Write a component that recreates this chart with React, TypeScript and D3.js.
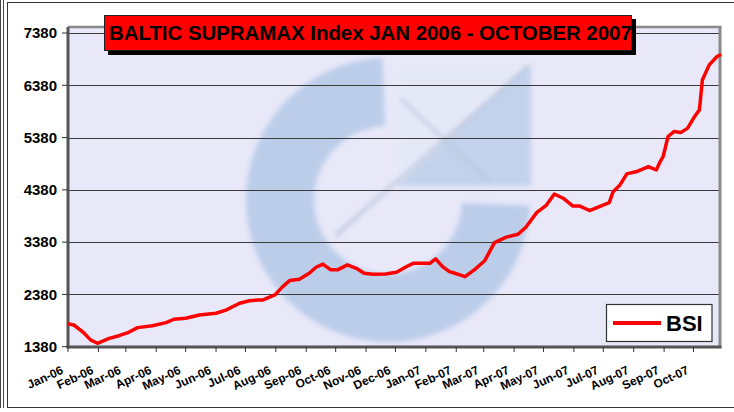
import { useEffect, useRef } from 'react';
import * as d3 from 'd3';

// BSI weekly-ish readings
const DATES = [
  '2006-01-02', '2006-01-07', '2006-01-16', '2006-01-24', '2006-01-31', '2006-02-12', '2006-02-22',
  '2006-03-04', '2006-03-13', '2006-03-28', '2006-04-11', '2006-04-19', '2006-05-01', '2006-05-15',
  '2006-06-01', '2006-06-11', '2006-06-25', '2006-07-05', '2006-07-15', '2006-07-19', '2006-07-31',
  '2006-08-08', '2006-08-15', '2006-08-25', '2006-09-04', '2006-09-11', '2006-09-18', '2006-09-26',
  '2006-10-03', '2006-10-13', '2006-10-22', '2006-10-30', '2006-11-08', '2006-11-21', '2006-12-02',
  '2006-12-12', '2006-12-19', '2007-01-05', '2007-01-11', '2007-01-18', '2007-01-25', '2007-01-29',
  '2007-02-10', '2007-02-20', '2007-03-02', '2007-03-12', '2007-03-24', '2007-04-05', '2007-04-13',
  '2007-04-24', '2007-05-04', '2007-05-12', '2007-05-21', '2007-05-31', '2007-06-07', '2007-06-17',
  '2007-06-27', '2007-07-07', '2007-07-11', '2007-07-18', '2007-07-25', '2007-08-04', '2007-08-16',
  '2007-08-24', '2007-08-28', '2007-08-31', '2007-09-05', '2007-09-11', '2007-09-18', '2007-09-25',
  '2007-10-02', '2007-10-07', '2007-10-10', '2007-10-17', '2007-10-25', '2007-10-28',
];
const BSI = [
  1815, 1795, 1665, 1510, 1445, 1540, 1590,
  1655, 1745, 1780, 1840, 1905, 1925, 1985,
  2020, 2080, 2210, 2260, 2275, 2275, 2370,
  2530, 2645, 2670, 2785, 2900, 2960, 2850,
  2850, 2945, 2880, 2785, 2765, 2770, 2805,
  2910, 2975, 2975, 3060, 2910, 2815, 2795,
  2720, 2860, 3025, 3370, 3475, 3530, 3665,
  3945, 4090, 4300, 4220, 4070, 4070, 3985,
  4060, 4135, 4345, 4475, 4685, 4730, 4825,
  4760, 4920, 5015, 5400, 5495, 5475, 5560,
  5780, 5910, 6480, 6770, 6930, 6960,
];
const Y_TICKS = [1380, 2380, 3380, 4380, 5380, 6380, 7380];
const MONTH_LABELS = [
  'Jan-06', 'Feb-06', 'Mar-06', 'Apr-06', 'May-06', 'Jun-06', 'Jul-06', 'Aug-06', 'Sep-06', 'Oct-06', 'Nov-06',
  'Dec-06', 'Jan-07', 'Feb-07', 'Mar-07', 'Apr-07', 'May-07', 'Jun-07', 'Jul-07', 'Aug-07', 'Sep-07', 'Oct-07',
];
const TITLE = 'BALTIC SUPRAMAX Index JAN 2006 - OCTOBER 2007';
const SERIES_NAME = 'BSI';

const W = 734;
const H = 412;
const FONT = '"Liberation Sans", Arial, sans-serif';

export default function App() {
  const svgRef = useRef<SVGSVGElement>(null);

  useEffect(() => {
    if (!svgRef.current) return;
    const svg = d3.select(svgRef.current);
    svg.selectAll('*').remove();

    const parse = d3.timeParse('%Y-%m-%d');
    const data = DATES.map((d, i) => ({ date: parse(d) as Date, value: BSI[i] }));

    const left = 68, right = 720, top = 27, bottom = 347;
    const x = d3.scaleTime()
      .domain([new Date(2006, 0, 1), new Date(2007, 9, 28)])
      .range([left, right]);
    const y = d3.scaleLinear().domain([1380, 7380]).range([346.7, 33]);

    // outer frame
    svg.append('rect').attr('width', W).attr('height', H).attr('fill', '#fff');
    svg.append('line').attr('x1', 0.5).attr('x2', 0.5).attr('y1', 0).attr('y2', 408).attr('stroke', '#444');
    svg.append('line').attr('x1', 3.5).attr('x2', 3.5).attr('y1', 0).attr('y2', 408).attr('stroke', '#444');
    svg.append('rect')
      .attr('x', 7.5).attr('y', 2.5).attr('width', 740).attr('height', 405)
      .attr('fill', '#fff').attr('stroke', '#333');

    // plot area
    svg.append('rect')
      .attr('x', left).attr('y', top).attr('width', right - left).attr('height', bottom - top)
      .attr('fill', '#e8e8f9');

    // watermark logo
    const defs = svg.append('defs');
    defs.append('filter').attr('id', 'soft')
      .append('feGaussianBlur').attr('stdDeviation', 2.5);
    const wm = svg.append('g').attr('filter', 'url(#soft)').attr('opacity', 0.5);
    const cx = 388, cy = 200;
    const ring = d3.arc()({ innerRadius: 74, outerRadius: 142, startAngle: Math.PI / 2 + 0.04, endAngle: 2 * Math.PI - 0.04 } as any);
    wm.append('path').attr('transform', `translate(${cx},${cy})`).attr('d', ring as string).attr('fill', '#8fb3da');
    wm.append('rect').attr('x', 397).attr('y', 64).attr('width', 134).attr('height', 122).attr('fill', '#9dbde0');
    wm.append('path').attr('d', 'M397,64 L531,64 L397,186 Z').attr('fill', '#e4eaf7');
    wm.append('line').attr('x1', 335).attr('y1', 236).attr('x2', 528).attr('y2', 66)
      .attr('stroke', '#8ea4bf').attr('stroke-width', 3);
    wm.append('line').attr('x1', 400).attr('y1', 98).attr('x2', 490).attr('y2', 182)
      .attr('stroke', '#8ea4bf').attr('stroke-width', 3);

    // gridlines
    svg.append('g').selectAll('line').data(Y_TICKS.slice(1)).join('line')
      .attr('x1', left).attr('x2', right - 1)
      .attr('y1', (d) => Math.round(y(d)) + 0.5).attr('y2', (d) => Math.round(y(d)) + 0.5)
      .attr('stroke', '#3a3a3a').attr('stroke-width', 1);

    // plot frame
    svg.append('line').attr('x1', left).attr('x2', right + 1.5).attr('y1', top).attr('y2', top)
      .attr('stroke', '#8a8a8a').attr('stroke-width', 2.5);
    svg.append('line').attr('x1', right).attr('x2', right).attr('y1', top).attr('y2', bottom + 1)
      .attr('stroke', '#8a8a8a').attr('stroke-width', 3);
    svg.append('line').attr('x1', left).attr('x2', left).attr('y1', top).attr('y2', bottom + 1.5)
      .attr('stroke', '#555').attr('stroke-width', 3);
    svg.append('line').attr('x1', left).attr('x2', right + 1.5).attr('y1', bottom).attr('y2', bottom)
      .attr('stroke', '#555').attr('stroke-width', 3);

    // y axis
    const yAxis = svg.append('g');
    yAxis.selectAll('line').data(Y_TICKS).join('line')
      .attr('x1', 62).attr('x2', left)
      .attr('y1', (d) => y(d)).attr('y2', (d) => y(d))
      .attr('stroke', '#333');
    yAxis.selectAll('text').data(Y_TICKS).join('text')
      .attr('x', 57).attr('y', (d) => y(d)).attr('dy', '0.35em')
      .attr('text-anchor', 'end')
      .attr('font-family', FONT).attr('font-size', 15).attr('font-weight', 'bold')
      .text((d) => d);

    // x axis
    const months = d3.timeMonth.range(new Date(2006, 0, 1), new Date(2007, 9, 2));
    const xAxis = svg.append('g');
    xAxis.selectAll('line').data(months).join('line')
      .attr('x1', (d) => x(d)).attr('x2', (d) => x(d))
      .attr('y1', bottom).attr('y2', bottom + 5)
      .attr('stroke', '#333');
    xAxis.selectAll('text').data(months).join('text')
      .attr('transform', (d) => `translate(${x(d) - 4},373) rotate(-25)`)
      .attr('text-anchor', 'end')
      .attr('font-family', FONT).attr('font-size', 12).attr('font-weight', 'bold')
      .text((d, i) => MONTH_LABELS[i]);

    // series
    const line = d3.line<{ date: Date; value: number }>()
      .x((d) => x(d.date))
      .y((d) => y(d.value));
    svg.append('path').datum(data)
      .attr('d', line)
      .attr('fill', 'none').attr('stroke', '#ff0000').attr('stroke-width', 3.5)
      .attr('stroke-linejoin', 'round').attr('stroke-linecap', 'round');

    // title box
    svg.append('rect').attr('x', 108).attr('y', 19).attr('width', 528).attr('height', 36).attr('fill', '#000');
    svg.append('rect').attr('x', 104.5).attr('y', 15.5).attr('width', 527).attr('height', 35)
      .attr('fill', '#ff0000').attr('stroke', '#222');
    svg.append('text')
      .attr('x', 109).attr('y', 39.5)
      .attr('font-family', FONT).attr('font-size', 20.4).attr('font-weight', 'bold')
      .text(TITLE);

    // legend
    const lg = svg.append('g');
    lg.append('rect').attr('x', 606.5).attr('y', 304.5).attr('width', 105.5).attr('height', 37)
      .attr('fill', '#fff').attr('stroke', '#333').attr('stroke-width', 1.2);
    lg.append('line').attr('x1', 613).attr('x2', 661).attr('y1', 323).attr('y2', 323)
      .attr('stroke', '#ff0000').attr('stroke-width', 4);
    lg.append('text').attr('x', 666).attr('y', 331)
      .attr('font-family', FONT).attr('font-size', 22).attr('font-weight', 'bold')
      .text(SERIES_NAME);
  }, []);

  return (
    <svg ref={svgRef} width={W} height={H} style={{ position: 'absolute', left: 0, top: 0 }} />
  );
}
